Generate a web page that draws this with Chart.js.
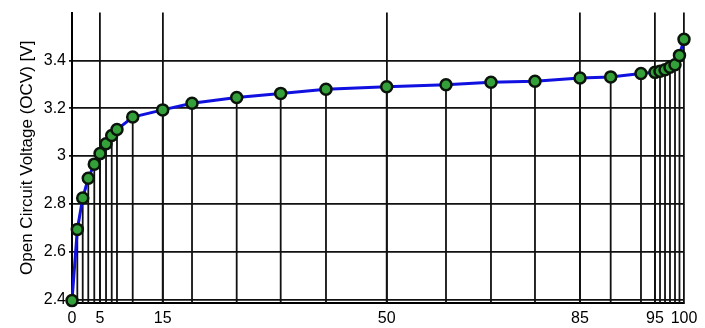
<!DOCTYPE html>
<html>
<head>
<meta charset="utf-8">
<script src="https://cdn.jsdelivr.net/npm/chart.js@4/dist/chart.umd.min.js"></script>
<style>
  html, body { margin: 0; padding: 0; background: #fff; }
  #wrap { width: 705px; height: 328px; }
</style>
</head>
<body>
<div id="wrap"><canvas id="c" width="705" height="328"></canvas></div>
<script>
// Point positions along the x axis (axis units) and measured OCV values [V]
const socPos = [0, 0.87, 1.75, 2.66, 3.64, 4.58, 5.56, 6.49, 7.35, 9.92,
  14.82, 19.61, 26.91, 34.1, 41.5, 51.42, 61.11, 68.46, 75.65, 83.01,
  88.02, 92.97, 95.26, 96.08, 96.9, 97.71, 98.53, 99.26, 100];
const ocv = [2.395, 2.693, 2.824, 2.907, 2.966, 3.010, 3.051, 3.086, 3.111, 3.163,
  3.193, 3.221, 3.245, 3.262, 3.279, 3.290, 3.298, 3.309, 3.313, 3.326,
  3.331, 3.345, 3.350, 3.355, 3.361, 3.371, 3.382, 3.421, 3.488];

// X tick positions (axis units) and their SOC labels
const xTickPos = [0, 4.58, 14.82, 51.42, 83.01, 95.26, 100];
const xTickLabels = ['0', '5', '15', '50', '85', '95', '100'];

// Y ticks
const yTicks = [2.4, 2.6, 2.8, 3.0, 3.2, 3.4];
const yTickLabels = ['2.4', '2.6', '2.8', '3', '3.2', '3.4'];

const yAxisMin = 2.385, yAxisMax = 3.6;
const xAxisMin = 0, xAxisMax = 100;

const mainData = socPos.map((x, i) => ({ x: x, y: ocv[i] }));
const stemData = [];
socPos.forEach((x, i) => {
  stemData.push({ x: x, y: yAxisMin });
  stemData.push({ x: x, y: ocv[i] });
  stemData.push({ x: x, y: null });
});

const FONT = "'Liberation Sans', Arial, Helvetica, sans-serif";

new Chart(document.getElementById('c'), {
  type: 'line',
  data: {
    datasets: [
      {
        label: 'OCV',
        data: mainData,
        borderColor: '#1010e0',
        borderWidth: 3,
        tension: 0,
        pointRadius: 5.5,
        pointBackgroundColor: '#33a03a',
        pointBorderColor: '#0a140a',
        pointBorderWidth: 2.5,
        clip: false,
        order: 0
      },
      {
        label: 'stems',
        data: stemData,
        borderColor: '#111',
        borderWidth: 1.8,
        pointRadius: 0,
        spanGaps: false,
        tension: 0,
        order: 1
      }
    ]
  },
  options: {
    responsive: false,
    animation: false,
    events: [],
    layout: { padding: { top: 8, right: 21, left: 0, bottom: 0 } },
    plugins: {
      legend: { display: false },
      tooltip: { enabled: false }
    },
    scales: {
      x: {
        type: 'linear',
        min: xAxisMin,
        max: xAxisMax,
        afterBuildTicks: (s) => { s.ticks = xTickPos.map(v => ({ value: v })); },
        afterFit: (s) => { s.height = 25; },
        ticks: {
          autoSkip: false,
          maxRotation: 0,
          padding: 6,
          color: '#000',
          font: { family: FONT, size: 16 },
          callback: (v, i) => xTickLabels[i]
        },
        grid: {
          color: '#111',
          lineWidth: 1.8,
          tickLength: 0,
          drawTicks: false
        },
        border: { display: true, color: '#000', width: 2 }
      },
      y: {
        type: 'linear',
        min: yAxisMin,
        max: yAxisMax,
        afterBuildTicks: (s) => { s.ticks = yTicks.map(v => ({ value: v })); },
        afterFit: (s) => { s.width = 72; },
        ticks: {
          autoSkip: false,
          padding: 3,
          color: '#000',
          font: { family: FONT, size: 16 },
          callback: (v, i) => yTickLabels[i]
        },
        grid: {
          color: '#111',
          lineWidth: 1.8,
          tickLength: 3
        },
        border: { display: true, color: '#000', width: 2 },
        title: {
          display: true,
          text: 'Open Circuit Voltage (OCV) [V]',
          color: '#000',
          font: { family: FONT, size: 17 },
          padding: { top: 17, bottom: 0 }
        }
      }
    }
  }
});
</script>
</body>
</html>
